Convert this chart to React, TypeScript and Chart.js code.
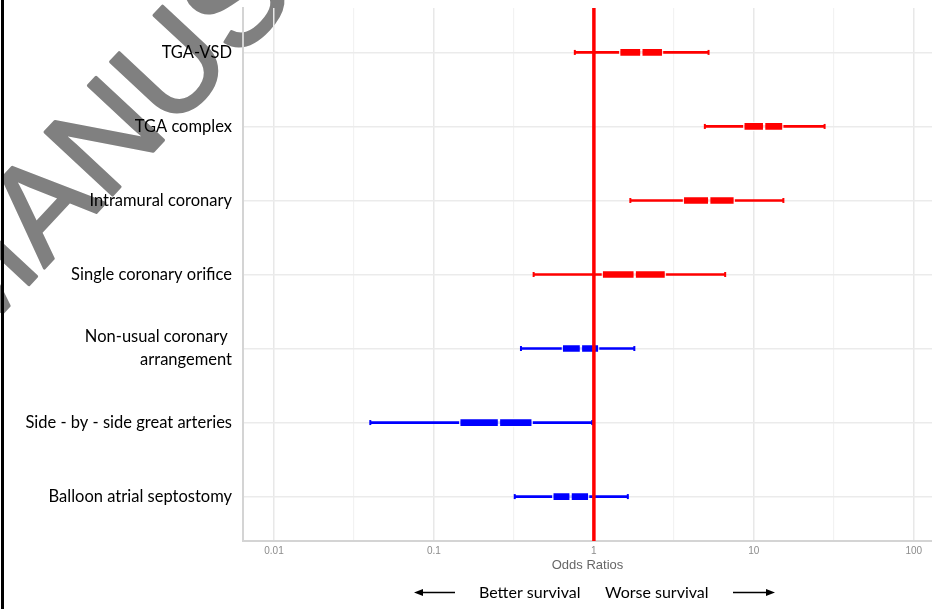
import React, { useEffect, useRef } from 'react';
import { Chart, registerables } from 'chart.js';

Chart.register(...registerables);

// ---- data ----
const categories = [
  'TGA-VSD',
  'TGA complex',
  'Intramural coronary',
  'Single coronary orifice',
  'Non-usual coronary \narrangement',
  'Side - by - side great arteries',
  'Balloon atrial septostomy',
];
const ciLower = [0.76, 4.94, 1.69, 0.42, 0.35, 0.04, 0.32];
const boxLower = [1.44, 8.6, 3.6, 1.12, 0.63, 0.144, 0.55];
const oddsRatio = [1.98, 11.6, 5.26, 1.8, 0.83, 0.255, 0.715];
const boxUpper = [2.71, 15.3, 7.6, 2.82, 1.08, 0.414, 0.935];
const ciUpper = [5.21, 27.7, 15.3, 6.62, 1.79, 0.976, 1.63];
const effectColors = ['#ff0000', '#ff0000', '#ff0000', '#ff0000', '#0000ff', '#0000ff', '#0000ff'];
const xMajorTicks = [0.01, 0.1, 1, 10, 100];
const xMinorTicks = [0.0316, 0.316, 3.16, 31.6];
const xTickLabels = ['0.01', '0.1', '1', '10', '100'];
const referenceValue = 1;
const xTitle = 'Odds Ratios';
const leftNote = 'Better survival';
const rightNote = 'Worse survival';
const watermarkText = 'MANUSCRIPT';

const W = 932;
const H = 609;

const decorPlugin = {
  id: 'decor',
  beforeDraw(chart: any) {
    const ctx = chart.ctx;
    ctx.save();
    ctx.translate(-32, 350);
    ctx.rotate((-47 * Math.PI) / 180);
    ctx.fillStyle = '#808080';
    ctx.strokeStyle = '#808080';
    ctx.lineWidth = 3;
    ctx.lineJoin = 'round';
    ctx.font = '134px "Liberation Sans"';
    ctx.textBaseline = 'alphabetic';
    ctx.textAlign = 'left';
    ctx.fillText(watermarkText, 0, 0);
    ctx.strokeText(watermarkText, 0, 0);
    ctx.restore();
  },
  afterDraw(chart: any) {
    const ctx = chart.ctx;
    ctx.save();
    // left black frame line
    ctx.fillStyle = '#000';
    ctx.fillRect(1, 0, 3, H);
    // bottom notes
    ctx.font = '16px Lato';
    ctx.fillStyle = '#000';
    ctx.textBaseline = 'alphabetic';
    ctx.textAlign = 'left';
    ctx.fillText(leftNote, 479, 598);
    ctx.fillText(rightNote, 605, 598);
    const ay = 592.5;
    ctx.strokeStyle = '#000';
    ctx.lineWidth = 1.6;
    ctx.beginPath();
    ctx.moveTo(420, ay);
    ctx.lineTo(455, ay);
    ctx.moveTo(733, ay);
    ctx.lineTo(769, ay);
    ctx.stroke();
    ctx.beginPath();
    ctx.moveTo(414, ay);
    ctx.lineTo(423, ay - 3.5);
    ctx.lineTo(423, ay + 3.5);
    ctx.closePath();
    ctx.moveTo(775, ay);
    ctx.lineTo(766, ay - 3.5);
    ctx.lineTo(766, ay + 3.5);
    ctx.closePath();
    ctx.fillStyle = '#000';
    ctx.fill();
    ctx.restore();
  },
};

export default function App() {
  const ref = useRef<HTMLCanvasElement | null>(null);

  useEffect(() => {
    if (!ref.current) return;
    const idx = categories.map((_, i) => i);
    const capColors = [...effectColors, ...effectColors];
    const chart = new Chart(ref.current, {
      type: 'bar',
      data: {
        datasets: [
          {
            type: 'line',
            data: [
              { x: referenceValue, y: -0.6 },
              { x: referenceValue, y: categories.length - 0.4 },
            ],
            borderColor: '#ff0000',
            borderWidth: 3.5,
            pointRadius: 0,
            order: 0,
          } as any,
          {
            type: 'bar',
            data: idx.map((i) => ({ y: i, x: [boxLower[i], oddsRatio[i]] })),
            backgroundColor: effectColors,
            borderColor: 'rgba(255,255,255,0.8)',
            borderWidth: 1.5,
            borderSkipped: false,
            barThickness: 9,
            grouped: false,
            order: 1,
          } as any,
          {
            type: 'bar',
            data: idx.map((i) => ({ y: i, x: [oddsRatio[i], boxUpper[i]] })),
            backgroundColor: effectColors,
            borderColor: 'rgba(255,255,255,0.8)',
            borderWidth: 1.5,
            borderSkipped: false,
            barThickness: 9,
            grouped: false,
            order: 1,
          } as any,
          {
            type: 'scatter',
            data: [
              ...idx.map((i) => ({ x: ciLower[i], y: i })),
              ...idx.map((i) => ({ x: ciUpper[i], y: i })),
            ],
            pointStyle: 'line',
            rotation: 90,
            radius: 2.5,
            borderWidth: 2,
            borderColor: capColors,
            backgroundColor: capColors,
            order: 2,
          } as any,
          {
            type: 'bar',
            data: idx.map((i) => ({ y: i, x: [ciLower[i], ciUpper[i]] })),
            backgroundColor: effectColors,
            borderWidth: 0,
            barThickness: 2,
            grouped: false,
            order: 3,
          } as any,
        ],
      },
      options: {
        indexAxis: 'y',
        responsive: false,
        animation: false,
        layout: { autoPadding: false, padding: { top: 8, left: 0, right: 0, bottom: 0 } },
        plugins: { legend: { display: false }, tooltip: { enabled: false } },
        scales: {
          x: {
            type: 'logarithmic',
            min: 0.0064,
            max: 130,
            afterBuildTicks: (s: any) => {
              s.ticks = [
                ...xMajorTicks.map((v) => ({ value: v, major: true })),
                ...xMinorTicks.map((v) => ({ value: v, major: false })),
              ].sort((a, b) => a.value - b.value);
            },
            afterFit: (s: any) => {
              s.height = 68;
              s.paddingLeft = 0;
              s.paddingRight = 0;
            },
            ticks: {
              autoSkip: false,
              maxRotation: 0,
              padding: 4,
              color: '#8c8c8c',
              font: { family: 'Liberation Sans', size: 10 },
              callback: (v: any) => {
                const k = xMajorTicks.indexOf(v);
                return k >= 0 ? xTickLabels[k] : '';
              },
            },
            grid: {
              color: (c: any) => (c.tick && c.tick.major ? '#e8e8e8' : '#f2f2f2'),
              lineWidth: (c: any) => (c.tick && c.tick.major ? 1.5 : 1.2),
              drawTicks: false,
            },
            border: { display: true, color: '#d4d4d4', width: 2 },
            title: {
              display: true,
              text: xTitle,
              color: '#666666',
              font: { family: 'Liberation Sans', size: 13 },
              padding: { top: 0, bottom: 36 },
            },
          },
          y: {
            type: 'linear',
            reverse: true,
            offset: false,
            min: -0.6,
            max: categories.length - 0.4,
            afterBuildTicks: (s: any) => {
              s.ticks = categories.map((_, i) => ({ value: i }));
            },
            afterFit: (s: any) => {
              s.width = 243;
              s.paddingTop = 0;
              s.paddingBottom = 0;
            },
            ticks: {
              autoSkip: false,
              padding: 11,
              color: '#000',
              font: { family: 'Lato', size: 16.5, lineHeight: 1.4 },
              callback: (v: any) => {
                const lab = categories[v];
                return lab ? lab.split('\n') : '';
              },
            },
            grid: { color: '#ebebeb', lineWidth: 1.5, drawTicks: false, offset: false },
            border: { display: true, color: '#d4d4d4', width: 2 },
          },
        },
      } as any,
      plugins: [decorPlugin],
    });
    return () => chart.destroy();
  }, []);

  return (
    <div style={{ position: 'fixed', left: 0, top: 0, width: W, height: H, background: '#fff' }}>
      <canvas ref={ref} width={W} height={H} style={{ display: 'block', width: W, height: H }} />
    </div>
  );
}
